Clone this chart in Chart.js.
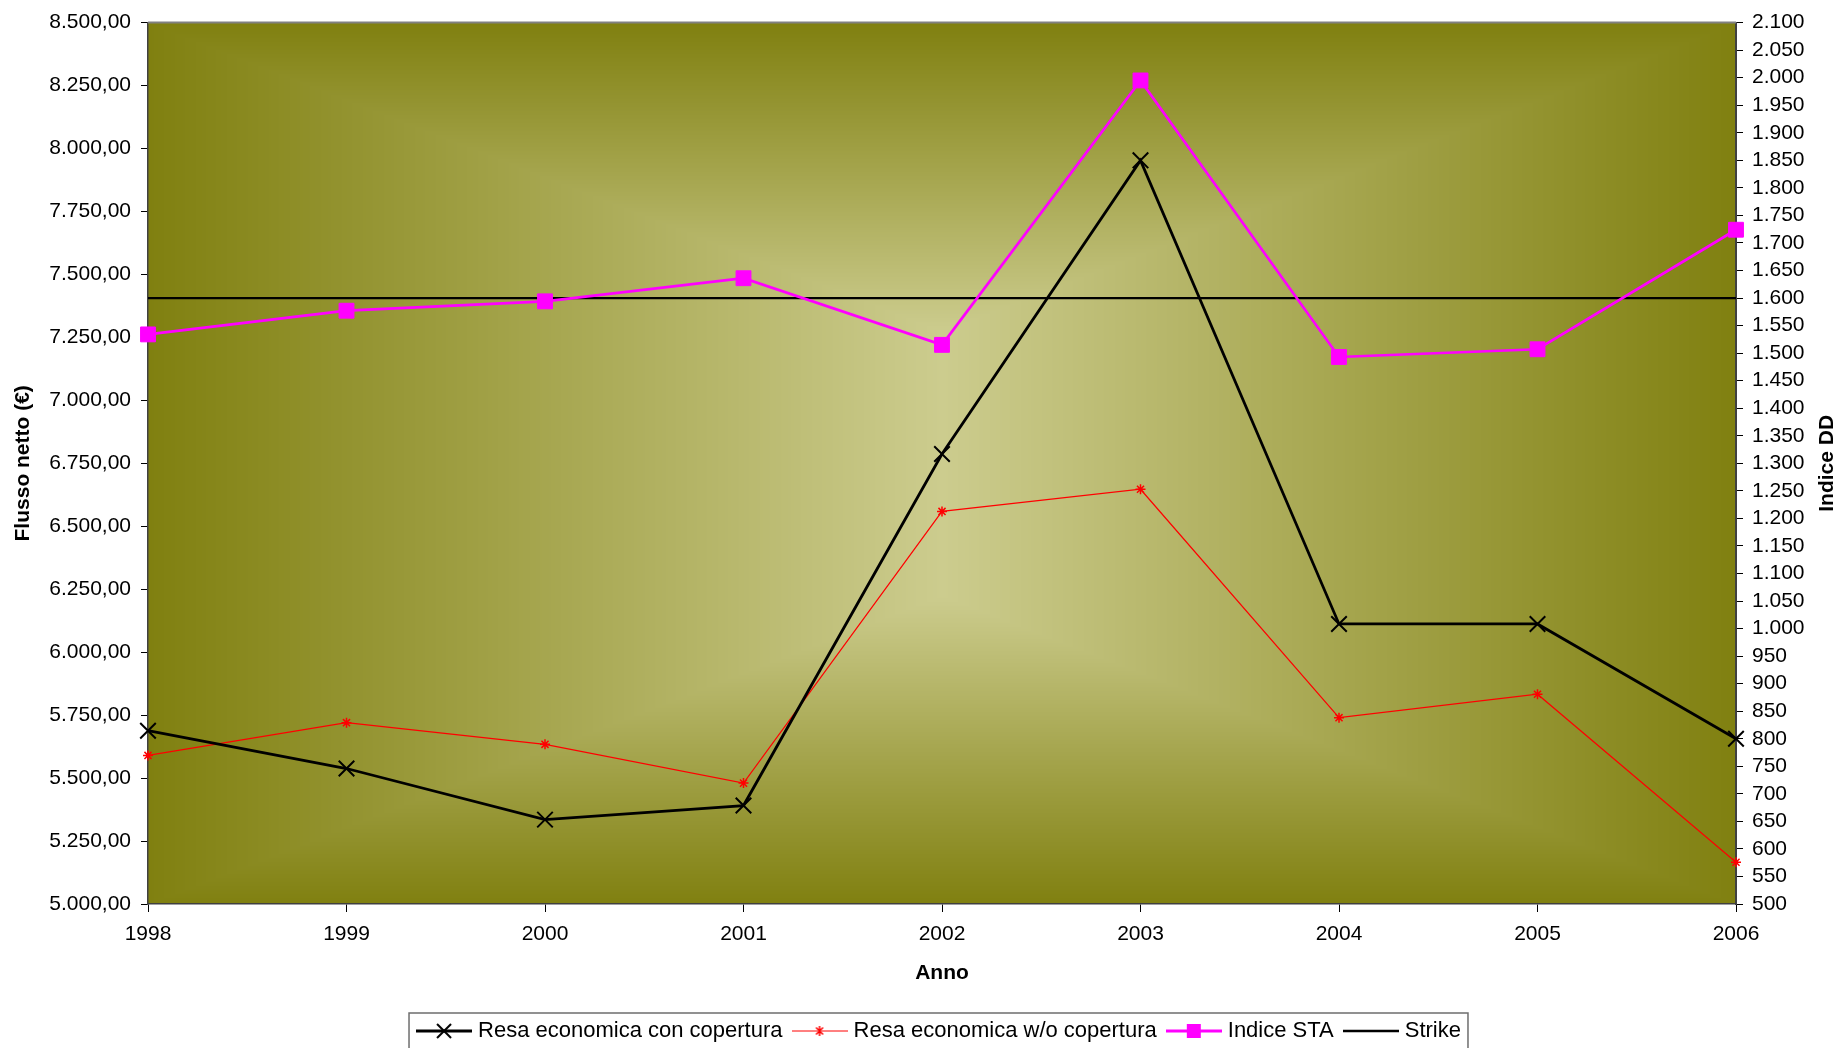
<!DOCTYPE html>
<html>
<head>
<meta charset="utf-8">
<script src="https://cdn.jsdelivr.net/npm/chart.js@4.4.1/dist/chart.umd.min.js"></script>
<style>
  html, body { margin: 0; padding: 0; background: #fff; }
  canvas { display: block; }
</style>
</head>
<body>
<canvas id="chart" width="1840" height="1048"></canvas>
<script>
// dati
const anni = ['1998', '1999', '2000', '2001', '2002', '2003', '2004', '2005', '2006'];
const resaConCopertura = [5688, 5538, 5335, 5391, 6787, 7953, 6112, 6112, 5656];
const resaSenzaCopertura = [5590, 5720, 5634, 5480, 6559, 6647, 5740, 5833, 5166];
const indiceSTA = [1534, 1577, 1594, 1636, 1515, 1995, 1493, 1507, 1724];
const strike = [1600, 1600, 1600, 1600, 1600, 1600, 1600, 1600, 1600];

const FONT = '"Liberation Sans", Arial, sans-serif';

function fmtIt(v, dec) {
  const parts = Number(v).toFixed(dec).split('.');
  const intPart = parts[0].replace(/\B(?=(\d{3})+(?!\d))/g, '.');
  return dec ? intPart + ',' + parts[1] : intPart;
}

// icone della legenda: linea + marcatore
function legendIcon(color, lineWidth, marker) {
  const c = document.createElement('canvas');
  c.width = 56; c.height = 24;
  const g = c.getContext('2d');
  g.strokeStyle = color;
  g.lineWidth = lineWidth;
  g.beginPath(); g.moveTo(0, 12); g.lineTo(56, 12); g.stroke();
  g.lineWidth = 2;
  if (marker === 'x') {
    g.beginPath();
    g.moveTo(21, 5); g.lineTo(35, 19);
    g.moveTo(35, 5); g.lineTo(21, 19);
    g.stroke();
  } else if (marker === 'star') {
    g.lineWidth = 1.5;
    g.beginPath();
    g.moveTo(24.5, 8.5); g.lineTo(31.5, 15.5);
    g.moveTo(31.5, 8.5); g.lineTo(24.5, 15.5);
    g.moveTo(28, 7); g.lineTo(28, 17);
    g.stroke();
  } else if (marker === 'square') {
    g.fillStyle = color;
    g.fillRect(21, 5, 14, 14);
  }
  return c;
}

const icons = [
  legendIcon('#000000', 2.8, 'x'),
  legendIcon('#ff0000', 1, 'star'),
  legendIcon('#ff00ff', 3, 'square'),
  legendIcon('#000000', 2.5, null)
];

// sfondo dell'area del grafico: sfumatura dal centro (fascia centrale verticale)
const sfondo = {
  id: 'sfondo',
  beforeDraw(chart) {
    const { ctx, chartArea: a } = chart;
    const x0 = Math.round(a.left), y0 = Math.round(a.top);
    const w = Math.round(a.right) - x0, h = Math.round(a.bottom) - y0;
    const img = ctx.createImageData(w, h);
    const cx = w / 2, cy = h / 2;
    const c0 = [204, 204, 142], c1 = [128, 128, 16];
    const band = 0.3;
    for (let y = 0; y < h; y++) {
      const ty = Math.max(0, (Math.abs(y - cy) / cy - band) / (1 - band));
      for (let x = 0; x < w; x++) {
        const tx = Math.abs(x - cx) / cx;
        const t = Math.min(1, Math.max(tx, ty));
        const i = (y * w + x) * 4;
        img.data[i] = c0[0] + (c1[0] - c0[0]) * t;
        img.data[i + 1] = c0[1] + (c1[1] - c0[1]) * t;
        img.data[i + 2] = c0[2] + (c1[2] - c0[2]) * t;
        img.data[i + 3] = 255;
      }
    }
    ctx.putImageData(img, x0, y0);
  },
  afterDraw(chart) {
    const { ctx, chartArea: a } = chart;
    ctx.save();
    // bordo superiore dell'area
    ctx.strokeStyle = '#808080';
    ctx.lineWidth = 2;
    ctx.beginPath(); ctx.moveTo(a.left, a.top); ctx.lineTo(a.right, a.top); ctx.stroke();

    // titoli degli assi verticali
    ctx.fillStyle = '#000';
    ctx.font = 'bold 21px ' + FONT;
    ctx.textAlign = 'center';
    ctx.textBaseline = 'middle';
    const cy = (a.top + a.bottom) / 2;
    ctx.translate(23.5, cy); ctx.rotate(-Math.PI / 2);
    ctx.fillText('Flusso netto (€)', 0, 0);
    ctx.setTransform(1, 0, 0, 1, 0, 0);
    ctx.translate(1827, cy); ctx.rotate(-Math.PI / 2);
    ctx.fillText('Indice DD', 0, 0);
    ctx.setTransform(1, 0, 0, 1, 0, 0);

    // riquadro della legenda
    const lg = chart.legend;
    if (lg && lg.legendHitBoxes && lg.legendHitBoxes.length) {
      const hb = lg.legendHitBoxes;
      const l = Math.min(...hb.map(b => b.left)) - 12;
      const r = Math.max(...hb.map(b => b.left + b.width)) + 7;
      ctx.strokeStyle = '#6e6e6e';
      ctx.lineWidth = 1.5;
      ctx.strokeRect(l, lg.top + 7, r - l, 80);
    }
    ctx.restore();
  }
};

const ctx = document.getElementById('chart').getContext('2d');
new Chart(ctx, {
  type: 'line',
  data: {
    labels: anni,
    datasets: [
      { label: 'Resa economica con copertura', data: resaConCopertura, yAxisID: 'y',
        borderColor: '#000000', backgroundColor: '#000000', borderWidth: 2.8,
        pointStyle: 'crossRot', pointRadius: 11, pointBorderWidth: 2, pointBorderColor: '#000000' },
      { label: 'Resa economica w/o copertura', data: resaSenzaCopertura, yAxisID: 'y',
        borderColor: '#ff0000', backgroundColor: '#ff0000', borderWidth: 1.2,
        pointStyle: 'star', pointRadius: 5, pointBorderWidth: 1.5, pointBorderColor: '#ff0000' },
      { label: 'Indice STA', data: indiceSTA, yAxisID: 'y1',
        borderColor: '#ff00ff', backgroundColor: '#ff00ff', borderWidth: 2.7,
        pointStyle: 'rect', pointRadius: 10.5, pointBorderWidth: 1, pointBorderColor: '#ff00ff' },
      { label: 'Strike', data: strike, yAxisID: 'y1',
        borderColor: '#000000', backgroundColor: '#000000', borderWidth: 2.3,
        pointRadius: 0 }
    ]
  },
  options: {
    responsive: false,
    animation: false,
    events: [],
    devicePixelRatio: 1,
    clip: false,
    elements: { line: { tension: 0 } },
    layout: { padding: { left: 42, top: 21.5, right: 0, bottom: -4 } },
    plugins: {
      tooltip: { enabled: false },
      legend: {
        position: 'bottom',
        labels: {
          usePointStyle: true,
          pointStyleWidth: 46,
          padding: 14,
          color: '#000',
          font: { family: FONT, size: 22 },
          generateLabels(chart) {
            return chart.data.datasets.map((ds, i) => ({
              text: ds.label,
              pointStyle: icons[i],
              fillStyle: ds.borderColor,
              strokeStyle: ds.borderColor,
              lineWidth: 0,
              hidden: false,
              datasetIndex: i,
              fontColor: '#000'
            }));
          }
        }
      }
    },
    scales: {
      x: {
        type: 'category',
        offset: false,
        afterFit(scale) { scale.height = 102; },
        grid: { display: true, drawOnChartArea: false, drawTicks: true, tickLength: 8, color: '#000' },
        border: { color: '#404040', width: 1.5 },
        ticks: { color: '#000', font: { family: FONT, size: 21 }, padding: 10, maxRotation: 0, autoSkip: false },
        title: { display: true, text: 'Anno', color: '#000', font: { family: FONT, size: 21, weight: 'bold' },
                 padding: { top: 0, bottom: 20 } }
      },
      y: {
        position: 'left',
        min: 5000, max: 8500,
        afterFit(scale) { scale.width = 106; },
        grid: { display: true, drawOnChartArea: false, drawTicks: true, tickLength: 7, color: '#000' },
        border: { color: '#404040', width: 1.5 },
        ticks: { stepSize: 250, color: '#000', font: { family: FONT, size: 21 }, padding: 10, autoSkip: false,
                 callback: v => fmtIt(v, 2) }
      },
      y1: {
        position: 'right',
        min: 500, max: 2100,
        afterFit(scale) { scale.width = 104; },
        grid: { display: true, drawOnChartArea: false, drawTicks: true, tickLength: 7, color: '#000' },
        border: { color: '#404040', width: 2 },
        ticks: { stepSize: 50, color: '#000', font: { family: FONT, size: 21 }, padding: 9, autoSkip: false,
                 callback: v => fmtIt(v, 0) }
      }
    }
  },
  plugins: [sfondo]
});
</script>
</body>
</html>
